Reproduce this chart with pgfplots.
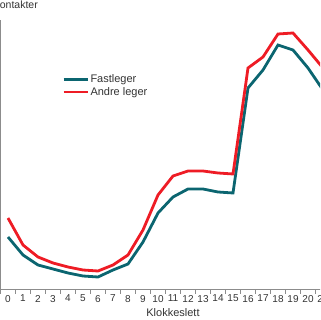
\documentclass[border=0pt]{standalone}
\usepackage{pgfplots}
\pgfplotsset{compat=1.18}
\usepackage{fontspec}
\setmainfont{Liberation Sans}
\definecolor{teal1}{HTML}{0B6570}
\definecolor{red1}{HTML}{EE1C25}
\definecolor{axgray}{HTML}{8C8C8C}
\definecolor{txtgray}{HTML}{333333}
\pgfplotstableread{
h fast andre
0 52 71
1 34 44
2 24 32
3 20 26
4 16 22
5 13 19
6 12 18
7 19 24
8 25 34
9 47 59
10 76 94
11 92 113
12 100 118
13 100 118
14 97 116
15 96 115
16 201 221
17 219 232
18 244 255
19 239 256
20 221 239
21 199 221
}\datatab
\begin{document}
\begin{tikzpicture}
\path[use as bounding box] (0,0) rectangle (320pt,320pt);
\clip (0,0) rectangle (320pt,320pt);
\begin{axis}[
  scale only axis,
  width=330pt, height=269pt,
  at={(0.5pt,31pt)}, anchor=south west,
  xmin=-0.5, xmax=21.5, ymin=0, ymax=269,
  axis x line=bottom, axis y line=left,
  axis line style={-, draw=axgray, line width=0.8pt},
  ytick=\empty,
  xtick={0,...,21},
  xticklabels={0,1,2,3,4,5,6,7,8,9,10,11,12,13,14,15,16,17,18,19,20,21},
  major tick length=0pt,
  minor xtick={-0.5,0.5,...,21.5},
  minor tick length=5pt,
  tick align=outside,
  minor tick style={draw=axgray, line width=0.8pt},
  xticklabel style={font=\fontsize{10}{11}\selectfont, text=txtgray, yshift=-2.5pt},
  clip=true,
  legend style={at={(axis cs:3.6,216)}, anchor=north west, draw=none, fill=none,
    font=\fontsize{11}{12}\selectfont, text=txtgray, row sep=0pt, inner sep=0pt,
    nodes={inner sep=1.5pt}},
  legend cell align=left,
  legend image code/.code={\draw[#1] (0pt,0pt) -- (24pt,0pt);},
]
\addplot[teal1, line width=2.8pt, line join=miter] table[x=h, y=fast] {\datatab};
\addlegendentry{Fastleger}
\addplot[red1, line width=2.8pt, line join=miter] table[x=h, y=andre] {\datatab};
\addlegendentry{Andre leger}
\end{axis}
\node[anchor=base east, font=\fontsize{10.5}{12}\selectfont, text=txtgray, inner sep=0pt] at (38pt,311.5pt) {Antall kontakter};
\node[anchor=center, font=\fontsize{11}{12}\selectfont, text=txtgray, inner sep=0pt] at (173pt,7.5pt) {Klokkeslett};
\end{tikzpicture}
\end{document}
